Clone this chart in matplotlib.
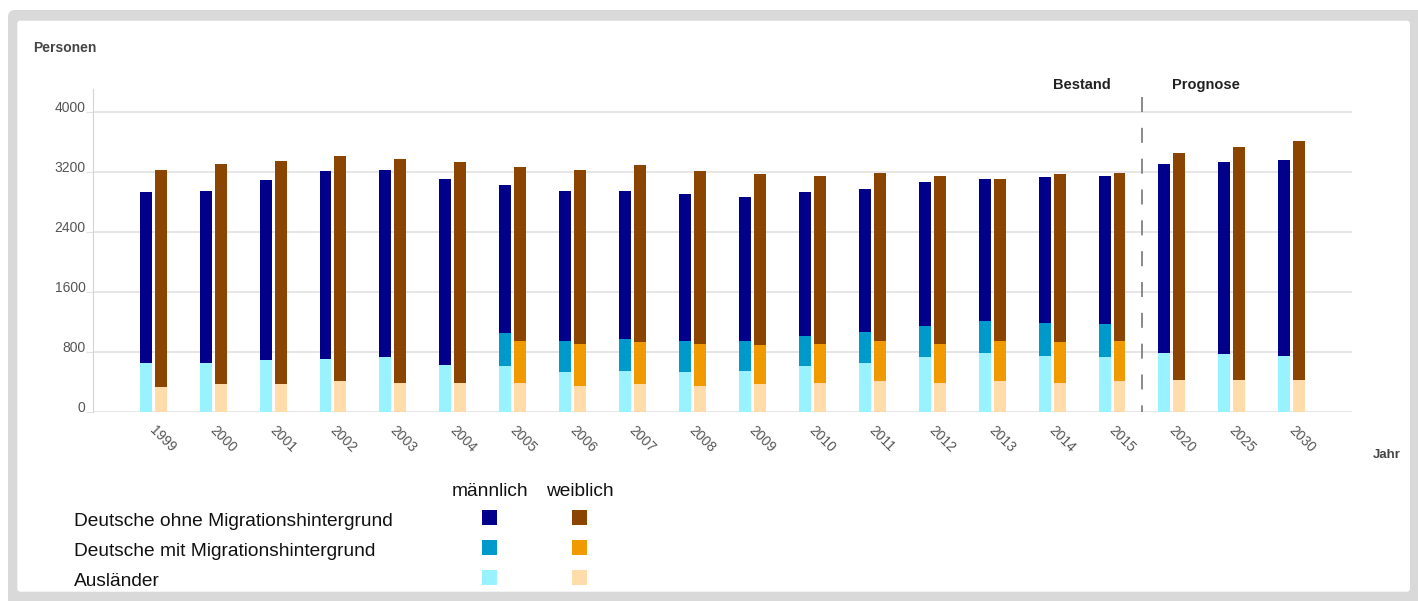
import numpy as np
import matplotlib.pyplot as plt
from matplotlib.patches import FancyBboxPatch, Rectangle
from matplotlib.transforms import IdentityTransform, ScaledTranslation

plt.rcParams['font.family'] = ['Liberation Sans', 'DejaVu Sans']

# data (Personen), stacked bottom -> top: Ausländer, mit Migration, ohne Migration
years = ['1999', '2000', '2001', '2002', '2003', '2004', '2005', '2006', '2007',
         '2008', '2009', '2010', '2011', '2012', '2013', '2014', '2015',
         '2020', '2025', '2030']
m_ausl = [645, 645, 685, 707, 725, 627, 605, 525, 547, 525, 547, 605, 645, 725,
          787, 747, 725, 787, 765, 747]
m_mig = [0, 0, 0, 0, 0, 0, 440, 422, 418, 422, 400, 400, 422, 422, 418, 440, 440,
         0, 0, 0]
m_ohne = [2280, 2302, 2400, 2498, 2502, 2475, 1982, 2000, 1982, 1960, 1920, 1920,
          1898, 1920, 1897, 1938, 1982, 2520, 2560, 2605]
w_ausl = [325, 365, 365, 405, 387, 387, 387, 347, 365, 347, 365, 387, 405, 387,
          405, 387, 405, 427, 427, 427]
w_mig = [0, 0, 0, 0, 0, 0, 560, 560, 560, 560, 520, 520, 542, 520, 542, 538, 542,
         0, 0, 0]
w_ohne = [2902, 2942, 2982, 3000, 2978, 2938, 2320, 2320, 2360, 2298, 2280, 2240,
          2240, 2240, 2155, 2240, 2240, 3018, 3098, 3178]

groups = ['Deutsche ohne Migrationshintergrund', 'Deutsche mit Migrationshintergrund',
          'Ausländer']
m_colors = ['#00008b', '#0099cc', '#99f2ff']
w_colors = ['#8b4500', '#f09a00', '#ffdcaa']

W, H = 1418, 601
fig = plt.figure(figsize=(W / 100, H / 100), dpi=100)
fig.patch.set_facecolor('white')

# grey frame around the chart (pixel coords, y measured from top)
def box(x0, y0, x1, y1, fc, z, r):
    p = FancyBboxPatch((x0, H - y1), x1 - x0, y1 - y0,
                       boxstyle='round,pad=0,rounding_size=%s' % r,
                       transform=IdentityTransform(), fc=fc, ec='none', zorder=z)
    fig.add_artist(p)

box(8, 10, W + 20, H + 20, '#d9d9d9', -3, 7)
box(17.3, 20.7, 1410, 591.7, 'white', -2, 3)

ax = fig.add_axes([93.3 / W, 1 - 411.7 / H, (1351.7 - 93.3) / W, (411.7 - 89.3) / H])
ax.set_facecolor('none')

x = np.arange(len(years))
bw = 0.2
m_ausl, m_mig, m_ohne = map(np.array, (m_ausl, m_mig, m_ohne))
w_ausl, w_mig, w_ohne = map(np.array, (w_ausl, w_mig, w_ohne))

ax.bar(x - 0.125, m_ausl, bw, color=m_colors[2], zorder=2)
ax.bar(x - 0.125, m_mig, bw, bottom=m_ausl, color=m_colors[1], zorder=2)
ax.bar(x - 0.125, m_ohne, bw, bottom=m_ausl + m_mig, color=m_colors[0], zorder=2)
ax.bar(x + 0.125, w_ausl, bw, color=w_colors[2], zorder=2)
ax.bar(x + 0.125, w_mig, bw, bottom=w_ausl, color=w_colors[1], zorder=2)
ax.bar(x + 0.125, w_ohne, bw, bottom=w_ausl + w_mig, color=w_colors[0], zorder=2)

ax.set_xlim(-1, 20)
ax.set_ylim(0, 4300)
ax.set_yticks(np.arange(0, 4001, 800))
ax.yaxis.grid(True, color='#e2e2e2', lw=1.2)
ax.set_axisbelow(True)
for s in ['top', 'right', 'bottom']:
    ax.spines[s].set_visible(False)
ax.spines['left'].set_color('#d4d4d4')
ax.tick_params(axis='y', length=5, color='#e2e2e2', pad=0.5, labelsize=10,
               labelcolor='#555555')
for lbl in ax.get_yticklabels():
    lbl.set_va('baseline')

ax.set_xticks(x, years)
ax.tick_params(axis='x', length=0, pad=8.4, labelsize=10, labelcolor='#555555')
off = ScaledTranslation(-0.06, 0, fig.dpi_scale_trans)
for lbl in ax.get_xticklabels():
    lbl.set_rotation(-45)
    lbl.set_ha('left')
    lbl.set_va('top')
    lbl.set_transform(lbl.get_transform() + off)

# Bestand / Prognose divider
ax.plot([16.5, 16.5], [4200, 0], color='#777777', lw=1.2, ls=(0, (9, 9.5)),
        clip_on=False, zorder=3)

def ftext(px, py, s, **kw):
    fig.text(px / W, 1 - py / H, s, **kw)

ftext(33.3, 51.7, 'Personen', fontsize=10, fontweight='bold', color='#444444',
      va='baseline')
ftext(1053.3, 89.3, 'Bestand', fontsize=10.5, fontweight='bold', color='#222222',
      va='baseline')
ftext(1171.7, 89.3, 'Prognose', fontsize=10.5, fontweight='bold', color='#222222',
      va='baseline')
ftext(1373, 458, 'Jahr', fontsize=9.5, fontweight='bold', color='#444444',
      va='baseline')

# legend table
ftext(490, 496, 'männlich', fontsize=13.8, color='#111111', ha='center', va='baseline')
ftext(579.5, 496, 'weiblich', fontsize=13.8, color='#111111', ha='center', va='baseline')
row_y = [517.5, 547.5, 577.5]
sq = 15.6
for name, yc, mc, wc in zip(groups, row_y, m_colors, w_colors):
    ftext(73.5, yc + 9, name, fontsize=13.8, color='#111111', va='baseline')
    for xc, c in ((489.5, mc), (579.5, wc)):
        fig.add_artist(Rectangle((xc - sq / 2, H - yc - sq / 2), sq, sq,
                                 transform=IdentityTransform(), fc=c, ec='none'))

fig.savefig('out.png', dpi=100)
